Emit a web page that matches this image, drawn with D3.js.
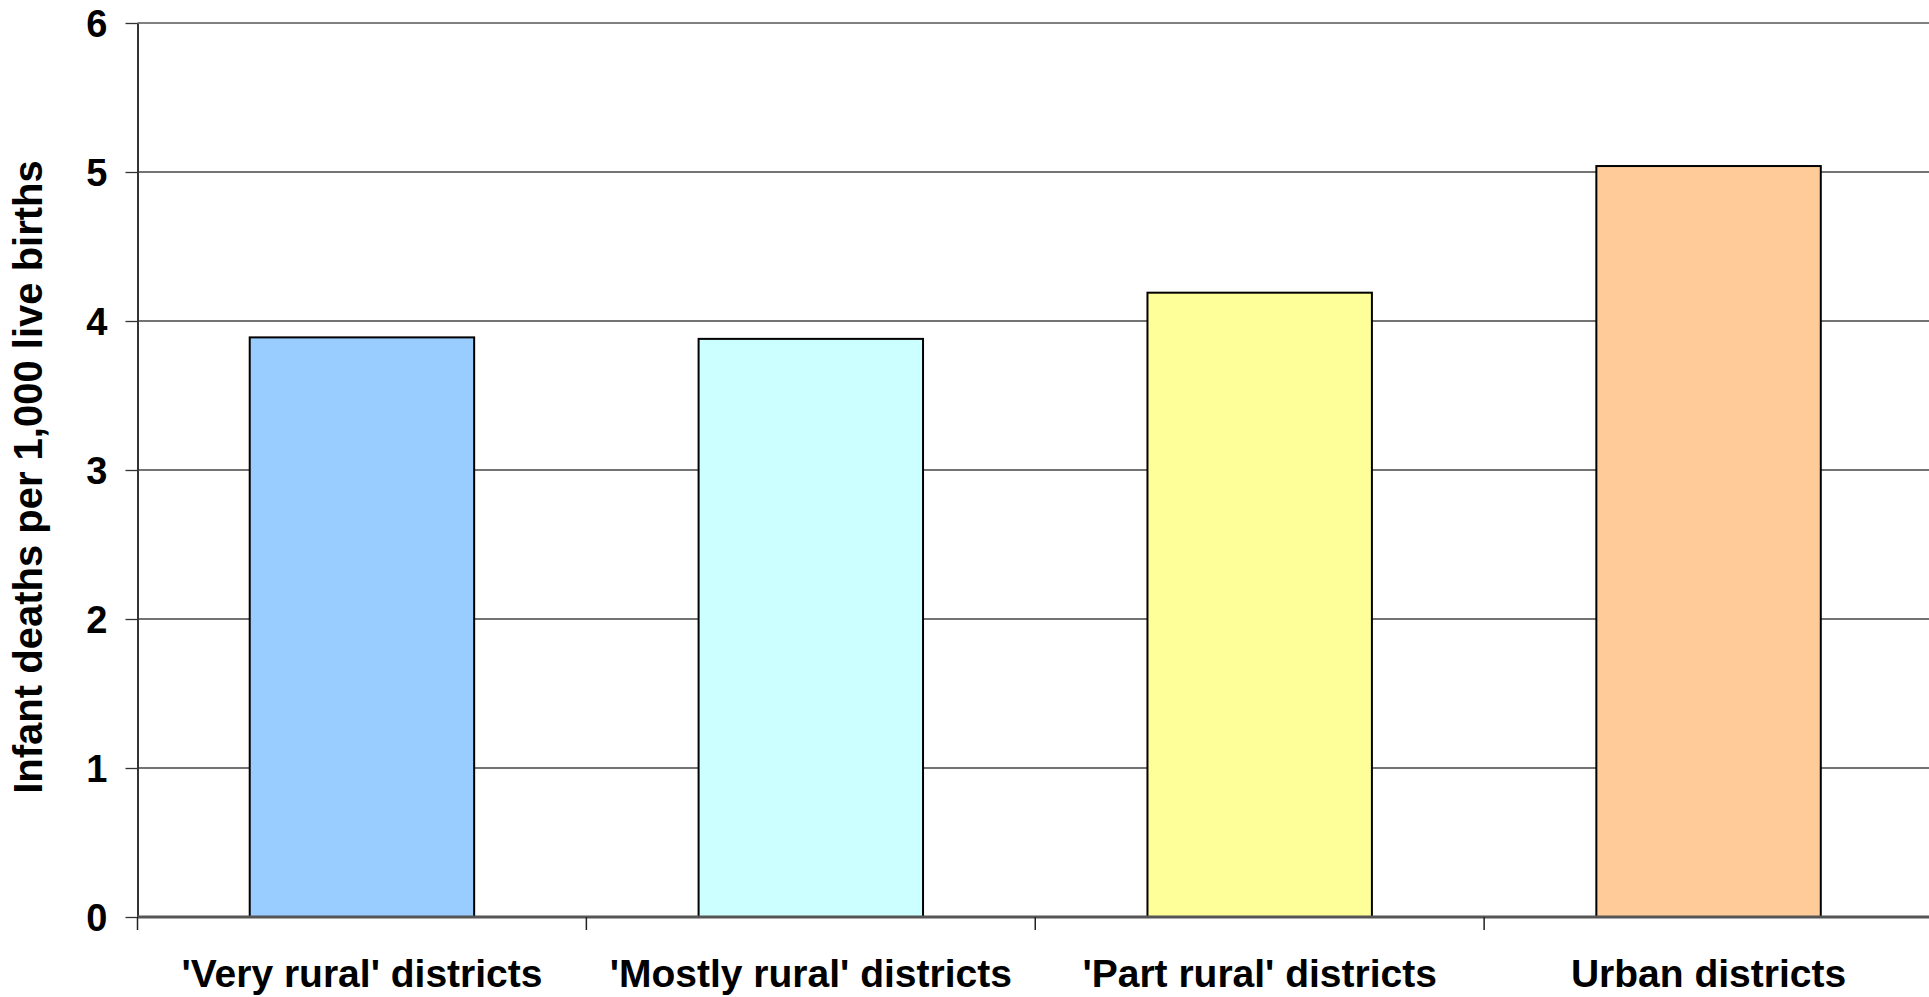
<!DOCTYPE html>
<html>
<head>
<meta charset="utf-8">
<script src="https://cdn.jsdelivr.net/npm/d3@7"></script>
<style>
  html, body { margin: 0; padding: 0; background: #fff; }
  svg { display: block; font-family: "Liberation Sans", Arial, sans-serif; font-weight: bold; }
</style>
</head>
<body>
<svg id="canvas" width="1929" height="997"></svg>
<script>
let categories = ["'Very rural' districts", "'Mostly rural' districts", "'Part rural' districts", "Urban districts"];
let rates = [3.89, 3.88, 4.19, 5.04];
let barColors = ['#99ccff', '#ccffff', '#ffff99', '#ffcc99'];
let yTicks = [0, 1, 2, 3, 4, 5, 6];

let canvas = d3.select('#canvas');

let plotLeft = 137.5, plotRight = 1933, plotTop = 23, plotBottom = 917;

let x = d3.scaleBand().domain(categories).range([plotLeft, plotRight]).paddingInner(0.5).paddingOuter(0.25);
let y = d3.scaleLinear().domain([0, 6]).range([plotBottom, plotTop]);

// gridlines
canvas.append('g').
  selectAll('line').
  data(yTicks.filter(t => t > 0)).
  enter().
  append('line').
  attr('x1', plotLeft).
  attr('x2', plotRight).
  attr('y1', t => y(t)).
  attr('y2', t => y(t)).
  attr('stroke', t => t === 6 ? '#808080' : '#444').
  attr('stroke-width', t => t === 6 ? 2 : 1.3);

// bars
canvas.append('g').
  selectAll('rect').
  data(categories).
  enter().
  append('rect').
  attr('x', c => x(c)).
  attr('y', (c, i) => y(rates[i])).
  attr('width', x.bandwidth()).
  attr('height', (c, i) => y(0) - y(rates[i])).
  attr('fill', (c, i) => barColors[i]).
  attr('stroke', '#000').
  attr('stroke-width', 2);

// y axis
let yAxis = d3.axisLeft(y).tickValues(yTicks).tickFormat(d3.format('d')).tickSizeInner(12).tickSizeOuter(0).tickPadding(18);
let yg = canvas.append('g').attr('transform', 'translate(' + plotLeft + ',0)').call(yAxis);
yg.select('.domain').attr('stroke', '#333').attr('stroke-width', 2);
yg.selectAll('.tick line').attr('stroke', '#333').attr('stroke-width', 1.3);
yg.selectAll('.tick text').
  attr('font-size', 38).
  attr('font-family', '"Liberation Sans", Arial, sans-serif').
  attr('font-weight', 'bold').
  attr('fill', '#000').
  attr('dy', '0.36em');

// x axis: ticks at category boundaries
let boundaries = categories.map(c => x(c) - x.step() * 0.25).concat([plotRight]);
canvas.append('line').
  attr('x1', plotLeft).
  attr('x2', plotRight).
  attr('y1', plotBottom).
  attr('y2', plotBottom).
  attr('stroke', '#555').
  attr('stroke-width', 3);
canvas.append('g').
  selectAll('line').
  data(boundaries).
  enter().
  append('line').
  attr('x1', b => b).
  attr('x2', b => b).
  attr('y1', plotBottom).
  attr('y2', plotBottom + 13).
  attr('stroke', '#222').
  attr('stroke-width', 1.5);

canvas.append('g').
  selectAll('text').
  data(categories).
  enter().
  append('text').
  attr('x', c => x(c) + x.bandwidth() / 2).
  attr('y', 987).
  attr('text-anchor', 'middle').
  attr('font-size', 39).
  attr('fill', '#000').
  text(c => c);

// y title
canvas.append('text').
  attr('transform', 'translate(42,' + ((plotTop + plotBottom) / 2 + 7) + ') rotate(-90)').
  attr('text-anchor', 'middle').
  attr('font-size', 40).
  attr('fill', '#000').
  text('Infant deaths per 1,000 live births');
</script>
</body>
</html>
